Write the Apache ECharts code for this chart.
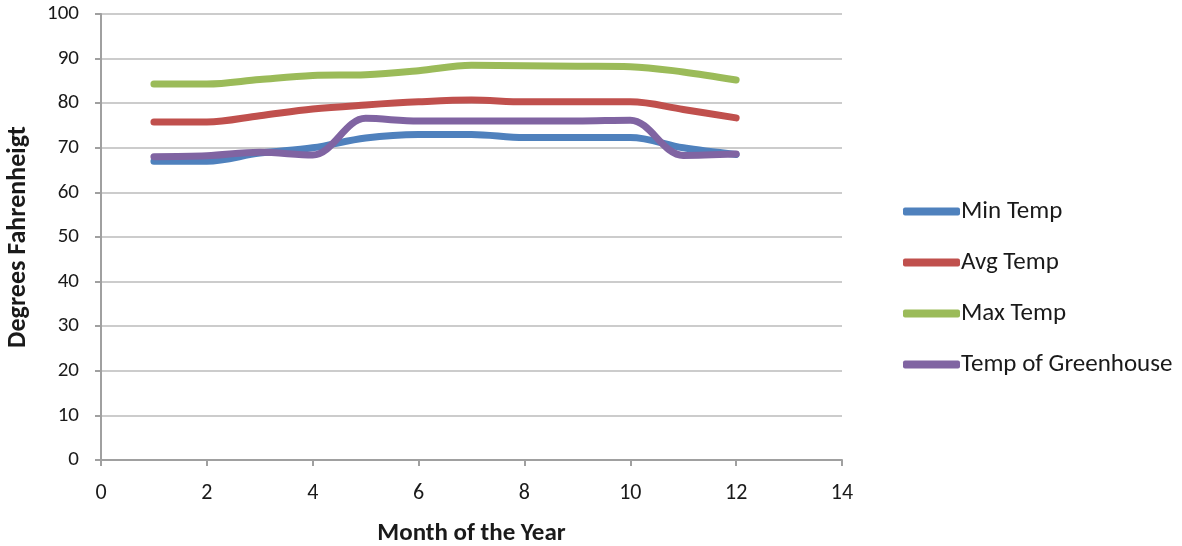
<!DOCTYPE html>
<html>
<head>
<meta charset="utf-8">
<script src="https://cdn.jsdelivr.net/npm/echarts@6/dist/echarts.min.js"></script>
<style>
html,body{margin:0;padding:0;background:#fff;}
#chart{width:1182px;height:546px;}
</style>
</head>
<body>
<div id="chart"></div>
<script>
// Monthly temperatures (°F)
const months = [1, 2, 3, 4, 5, 6, 7, 8, 9, 10, 11, 12];
const minTemp = [67, 67, 68.8, 70, 72.2, 73, 73, 72.3, 72.3, 72.3, 70, 68.5];
const avgTemp = [75.8, 75.8, 77.2, 78.7, 79.6, 80.3, 80.7, 80.3, 80.3, 80.3, 78.6, 76.7];
const maxTemp = [84.3, 84.3, 85.3, 86.2, 86.4, 87.3, 88.5, 88.4, 88.3, 88.2, 87, 85.2];
const greenhouseTemp = [68, 68.2, 69, 68.4, 76.6, 76, 76, 76, 76, 76.2, 68.3, 68.6];
const seriesNames = ['Min Temp', 'Avg Temp', 'Max Temp', 'Temp of Greenhouse'];
const seriesColors = ['#4F81BD', '#C0504D', '#9BBB59', '#8064A2'];
const xTicks = [0, 2, 4, 6, 8, 10, 12, 14];
const yTicks = [0, 10, 20, 30, 40, 50, 60, 70, 80, 90, 100];

const font = "Carlito, Lato, 'Open Sans', sans-serif";
const seriesData = [minTemp, avgTemp, maxTemp, greenhouseTemp];

const chart = echarts.init(document.getElementById('chart'));
chart.setOption({
  animation: false,
  backgroundColor: '#fff',
  textStyle: { fontFamily: font },
  grid: { left: 101, right: 340, top: 14, bottom: 86, containLabel: false, outerBoundsMode: 'none' },
  legend: {
    orient: 'vertical',
    left: 898,
    top: 194,
    itemGap: 26,
    itemWidth: 57,
    itemHeight: 8,
    icon: 'roundRect',
    textStyle: { fontFamily: font, fontSize: 25, lineHeight: 25, color: '#1a1a1a', padding: [0, 0, 0, -4] },
    data: seriesNames
  },
  xAxis: {
    type: 'value',
    min: xTicks[0],
    max: xTicks[xTicks.length - 1],
    interval: 2,
    name: 'Month of the Year',
    nameLocation: 'middle',
    nameGap: 61,
    nameTextStyle: { fontFamily: font, fontSize: 25, fontWeight: 'bold', color: '#1a1a1a' },
    axisLine: { lineStyle: { color: '#a0a0a0', width: 2 } },
    axisTick: { show: true, length: 6, lineStyle: { color: '#a0a0a0', width: 2 } },
    axisLabel: { fontFamily: font, fontSize: 22, color: '#1a1a1a', margin: 22 },
    splitLine: { show: false }
  },
  yAxis: {
    type: 'value',
    min: yTicks[0],
    max: yTicks[yTicks.length - 1],
    interval: 10,
    name: 'Degrees Fahrenheigt',
    nameLocation: 'middle',
    nameRotate: 90,
    nameGap: 70,
    nameTextStyle: { fontFamily: font, fontSize: 26, fontWeight: 'bold', color: '#1a1a1a' },
    axisLine: { show: true, lineStyle: { color: '#a0a0a0', width: 2 } },
    axisTick: { show: true, length: 6, lineStyle: { color: '#a0a0a0', width: 2 } },
    axisLabel: { fontFamily: font, fontSize: 21, color: '#1a1a1a', margin: 22 },
    splitLine: { show: true, lineStyle: { color: '#cccccc', width: 2 } }
  },
  series: seriesNames.map((name, i) => ({
    name: name,
    type: 'line',
    smooth: 0.35,
    symbol: 'none',
    color: seriesColors[i],
    lineStyle: { width: 7, cap: 'round', join: 'round', color: seriesColors[i] },
    data: months.map((m, j) => [m, seriesData[i][j]])
  }))
});
</script>
</body>
</html>
